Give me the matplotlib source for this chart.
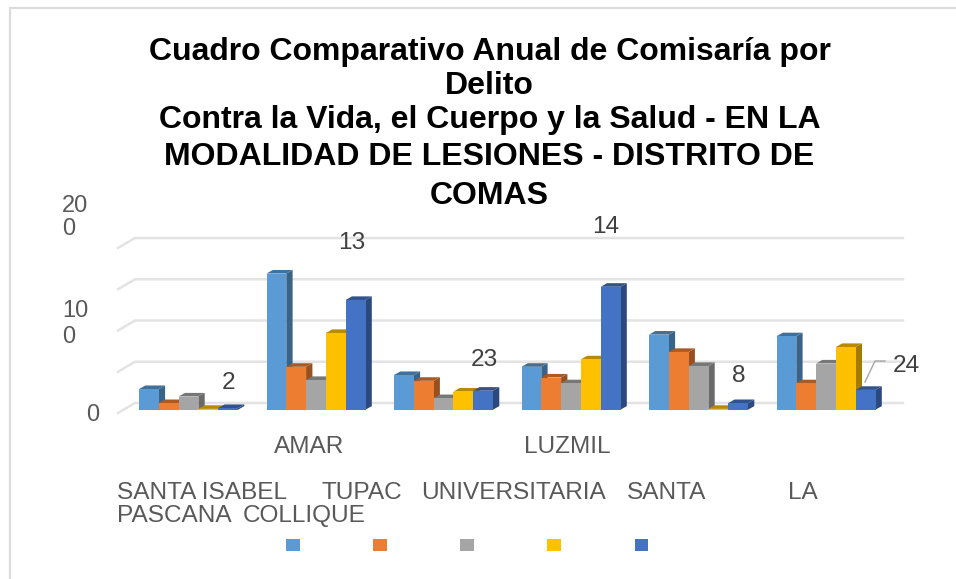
import matplotlib
matplotlib.use("Agg")
import matplotlib.pyplot as plt
from matplotlib.patches import Polygon, Patch
from matplotlib.transforms import ScaledTranslation
from matplotlib.colors import to_rgb

plt.rcParams['font.family'] = ['Liberation Sans', 'DejaVu Sans']

# ---- data ----
categories = ["SANTA ISABEL", "TUPAC AMAR", "UNIVERSITARIA", "SANTA LUZMIL", "LA PASCANA", "COLLIQUE"]
series_1 = [25, 165, 42, 52, 91, 89]
series_2 = [8, 52, 35, 39, 70, 32]
series_3 = [16, 36, 14, 32, 53, 56]
series_4 = [1, 93, 22, 61, 1, 76]
series_5 = [2, 133, 23, 149, 8, 24]
last_labels = ["2", "13", "23", "14", "8", "24"]
colors = ["#5B9BD5", "#ED7D31", "#A5A5A5", "#FFC000", "#4472C4"]
grid_values = [0, 50, 100, 150, 200]
y_ticks = [0, 100, 200]
y_ticklabels = ["0", "10\n0", "20\n0"]
title_lines = ["Cuadro Comparativo Anual de Comisaría por", "Delito",
               "Contra la Vida, el Cuerpo y la Salud - EN LA",
               "MODALIDAD DE LESIONES - DISTRITO DE", "COMAS"]

W, H = 956, 579
fig = plt.figure(figsize=(W / 100, H / 100), dpi=100)
fig.patch.set_facecolor("white")

def fx(x): return x / W
def fy(y): return 1 - y / H

# outer frame: only the left and top edges are visible in the source
fig.add_artist(plt.Line2D([fx(9.5), fx(9.5), 1], [0, fy(7.5), fy(7.5)], transform=fig.transFigure,
                          color="#DCDCDC", lw=1.6, solid_joinstyle="miter"))

# axes: px/unit scales
PX_X, PX_Y = 127.5, 0.825
BASE, X0 = 409.7, 188.5
L, R, B, T = 118, 903, 413, 230
ax = fig.add_axes([fx(L), fy(B), (R - L) / W, (B - T) / H])
ax.set_xlim((L - X0) / PX_X, (R - X0) / PX_X)
ax.set_ylim((BASE - B) / PX_Y, (BASE - T) / PX_Y)
ax.patch.set_alpha(0)
for s in ax.spines.values():
    s.set_visible(False)

DX, DY = 6.3 / PX_X, 3.6 / PX_Y
WALL_X, WALL_Y = 17 / PX_X, 10 / PX_Y
x_left, x_right = ax.get_xlim()
floor_y = (BASE - 403) / PX_Y
for v in grid_values:
    yb = floor_y + v
    ax.plot([x_left, x_left + WALL_X, x_right], [yb - WALL_Y, yb, yb],
            color="#E3E3E3", lw=1.8, zorder=1, clip_on=False, solid_joinstyle="round")

def shade(c, f):
    return tuple(v * f for v in to_rgb(c))

BW = 19.8 / PX_X
all_series = [series_1, series_2, series_3, series_4, series_5]
for j, (vals, c) in enumerate(zip(all_series, colors)):
    for i, v in enumerate(vals):
        x0 = i - 2.5 * BW + j * BW
        z = 3 + j * 0.01
        ax.add_patch(Polygon([(x0 + BW, 0), (x0 + BW + DX, DY), (x0 + BW + DX, v + DY), (x0 + BW, v)],
                             closed=True, fc=shade(c, 0.64), ec="none", zorder=z))
        ax.add_patch(Polygon([(x0, v), (x0 + DX, v + DY), (x0 + BW + DX, v + DY), (x0 + BW, v)],
                             closed=True, fc=shade(c, 0.72), ec="none", zorder=z))
        ax.bar(x0 + BW / 2, v, width=BW, color=c, zorder=z + 0.005, linewidth=0)

ax.set_xticks(range(len(categories)))
ax.set_xticklabels([""] * len(categories))
ax.tick_params(axis="both", length=0)

# value-axis labels, shifted as in the source rendering
ax.set_yticks(y_ticks)
ax.set_yticklabels(y_ticklabels, fontsize=17, color="#595959", ha="left")
ax.tick_params(axis="y", pad=0)
spacing = [1.0, 1.2, 1.05]
shifts = [(-32, -3), (-56, 7.5), (-56, 30)]
for lab, (sx, sy), ls in zip(ax.get_yticklabels(), shifts, spacing):
    lab.set_linespacing(ls)
    lab.set_transform(lab.get_transform() + ScaledTranslation(sx / 100, sy / 100, fig.dpi_scale_trans))

# title
title_y = [52, 86.5, 120, 157, 196]
for line, y in zip(title_lines, title_y):
    fig.text(fx(489.5), fy(y), line, ha="center", va="center", fontsize=23, fontweight="bold", color="black")

# fragmented category labels
txt = dict(fontsize=17.6, color="#595959", va="center", ha="left")
frags = [("AMAR", 274, 447), ("LUZMIL", 524, 447), ("SANTA ISABEL", 117, 493), ("TUPAC", 322, 493),
         ("UNIVERSITARIA", 421, 493), ("SANTA", 627, 493), ("LA", 788, 493),
         ("PASCANA", 117, 516), ("COLLIQUE", 243, 516)]
for s, x, y in frags:
    fig.text(fx(x), fy(y), s, **txt)

# value labels of the last series
label_pos = [(229, 383), (352, 243), (484, 360), (606, 227), (739, 376), (906, 366)]
for s, (x, y) in zip(last_labels, label_pos):
    fig.text(fx(x), fy(y), s, fontsize=17.6, color="#404040", ha="center", va="center")

# leader line for the last label
leader = plt.Line2D([fx(865), fx(875), fx(885)], [fy(382), fy(361), fy(361)],
                    transform=fig.transFigure, color="#A6A6A6", lw=1)
fig.add_artist(leader)

# legend: swatches only, the series names are not shown in the source
handles = [Patch(facecolor=c, edgecolor="none") for c in colors]
fig.legend(handles, [" "] * 5, ncol=5, frameon=False, loc="center",
           bbox_to_anchor=(fx(469), fy(545.5)), handlelength=1.0, handleheight=0.95,
           handletextpad=0.0, columnspacing=5.0, fontsize=10, borderpad=0)

fig.savefig("out.png", dpi=100)
